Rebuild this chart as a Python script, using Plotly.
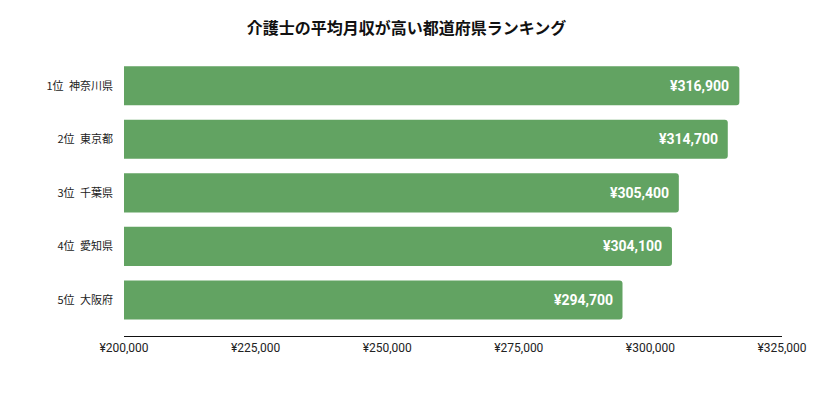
import plotly.graph_objects as go

categories = ["1位\u2002神奈川県", "2位\u2002東京都", "3位\u2002千葉県", "4位\u2002愛知県", "5位\u2002大阪府"]
values = [316900, 314700, 305400, 304100, 294700]
tick_vals = [200000, 225000, 250000, 275000, 300000, 325000]
tick_text = ["¥200,000", "¥225,000", "¥250,000", "¥275,000", "¥300,000", "¥325,000"]
title = "介護士の平均月収が高い都道府県ランキング"

BAR = "#62a362"
FONT = "Roboto, 'Noto Sans CJK JP', sans-serif"

fig = go.Figure()
fig.add_trace(go.Bar(
    x=values, y=categories, orientation="h",
    marker=dict(color=BAR, line=dict(width=0)),
    hoverinfo="skip",
))

for v, c in zip(values, categories):
    fig.add_annotation(
        x=v, y=c, xref="x", yref="y", text=f"<b>¥{v:,}</b>",
        xanchor="right", xshift=-8, showarrow=False,
        font=dict(family=FONT, size=14, color="white"),
    )

fig.update_layout(
    width=813, height=410,
    margin=dict(l=124, r=31, t=59, b=74, autoexpand=False),
    paper_bgcolor="white", plot_bgcolor="white",
    bargap=0.27, barcornerradius=3,
    showlegend=False,
    title=dict(text="<b>" + title + "</b>", x=0.5, xanchor="center",
               y=1 - 28 / 410, yanchor="middle", automargin=False,
               font=dict(family="'Noto Sans CJK JP', sans-serif", size=16, color="#111")),
    font=dict(family=FONT, size=12, color="#222"),
)
fig.update_xaxes(
    range=[200000, 325000], tickvals=tick_vals, ticktext=tick_text, automargin=False,
    showgrid=False, zeroline=False, showline=True, linecolor="#111", linewidth=1.3,
    ticks="", tickfont=dict(family=FONT, size=12, color="#222"),
)
fig.update_yaxes(
    range=[4.673, -0.5], showgrid=False, zeroline=False, showline=False, automargin=False,
    ticks="", ticklabelstandoff=10,
    tickfont=dict(family="'Noto Sans CJK JP', sans-serif", size=11, color="#222"),
)

fig.write_html("out.html", config={"displayModeBar": False},
               post_script="document.body.style.margin='0';")
